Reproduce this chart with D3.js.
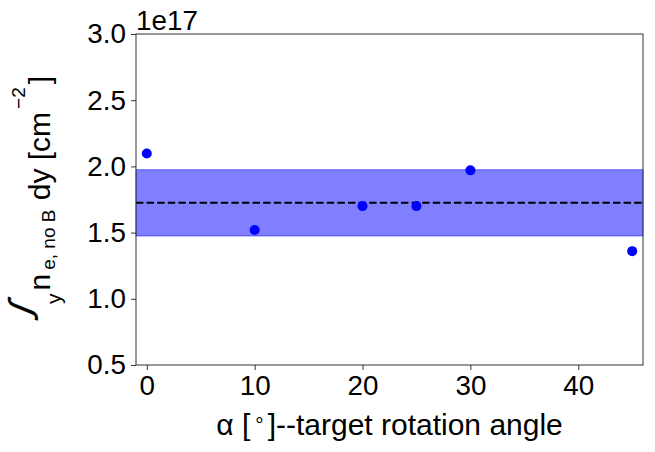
<!DOCTYPE html>
<html>
<head>
<meta charset="utf-8">
<script src="https://cdn.jsdelivr.net/npm/d3@7"></script>
<style>
  body { margin: 0; background: #fff; }
  text { font-family: "Liberation Sans", Arial, sans-serif; fill: #000; }
</style>
</head>
<body>
<div id="chart"></div>
<script>
// data (values in units of 1e17 cm^-2)
const angles = [0, 10, 20, 25, 30, 45];
const density = [2.098, 1.52, 1.70, 1.70, 1.97, 1.36];
const xTicks = [0, 10, 20, 30, 40];
const yTicks = [0.5, 1.0, 1.5, 2.0, 2.5, 3.0];

const width = 655, height = 452;
const margin = { top: 34, right: 12, bottom: 87, left: 136 };
const fs = 27.8;   // tick labels
const lfs = 30;    // axis labels
const sfs = 19;    // sub/superscripts

const svg = d3.select("#chart").append("svg")
  .attr("width", width)
  .attr("height", height);

const x = d3.scaleLinear().domain([-1, 46]).range([margin.left, width - margin.right]);
const y = d3.scaleLinear().domain([0.5, 3.0]).range([height - margin.bottom, margin.top]);

// mean and population std of the points
const mean = d3.mean(density);
const std = Math.sqrt(d3.mean(density, d => (d - mean) ** 2));

// shaded band
svg.append("rect")
  .attr("x", x.range()[0])
  .attr("y", y(mean + std))
  .attr("width", x.range()[1] - x.range()[0])
  .attr("height", y(mean - std) - y(mean + std))
  .attr("fill", "blue")
  .attr("fill-opacity", 0.5)
  .attr("stroke", "blue")
  .attr("stroke-opacity", 0.5)
  .attr("stroke-width", 1);

// dashed mean line
svg.append("line")
  .attr("x1", x.range()[0]).attr("x2", x.range()[1])
  .attr("y1", y(mean)).attr("y2", y(mean))
  .attr("stroke", "#000")
  .attr("stroke-width", 2)
  .attr("stroke-dasharray", "7.4,3.2");

// points
svg.selectAll("circle.pt")
  .data(angles)
  .join("circle")
  .attr("class", "pt")
  .attr("cx", d => x(d))
  .attr("cy", (d, i) => y(density[i]))
  .attr("r", 5)
  .attr("fill", "blue");

// axes
const xAxis = svg.append("g")
  .attr("transform", `translate(0,${y.range()[0]})`)
  .call(d3.axisBottom(x).tickValues(xTicks).tickFormat(d3.format("d")).tickSize(5).tickPadding(5));
const yAxis = svg.append("g")
  .attr("transform", `translate(${x.range()[0]},0)`)
  .call(d3.axisLeft(y).tickValues(yTicks).tickFormat(d3.format(".1f")).tickSize(5).tickPadding(5));

[xAxis, yAxis].forEach(g => {
  g.select(".domain").remove();
  g.selectAll(".tick line").attr("stroke", "#333").attr("stroke-width", 1);
  g.selectAll(".tick text")
    .attr("font-size", fs)
    .attr("font-family", "Liberation Sans, Arial, sans-serif")
    .attr("fill", "#000");
});

// frame
svg.append("rect")
  .attr("x", x.range()[0])
  .attr("y", y.range()[1])
  .attr("width", x.range()[1] - x.range()[0])
  .attr("height", y.range()[0] - y.range()[1])
  .attr("fill", "none")
  .attr("stroke", "#333")
  .attr("stroke-width", 1);

// offset text
svg.append("text")
  .attr("x", x.range()[0])
  .attr("y", 30)
  .attr("font-size", fs)
  .text("1e17");

// x label
const xl = svg.append("text")
  .attr("x", (x.range()[0] + x.range()[1]) / 2)
  .attr("y", 435)
  .attr("text-anchor", "middle")
  .attr("font-size", lfs);
xl.append("tspan").text("α [");
xl.append("tspan").attr("font-size", lfs * 0.7).attr("dx", 5).attr("dy", -3).text("°");
xl.append("tspan").attr("dx", 4).attr("dy", 3).text("]--target rotation angle");

// y label: integral sign drawn on its own, rest as one rotated line
svg.append("text")
  .attr("transform", "translate(31,312) rotate(-90) skewX(-22)")
  .attr("text-anchor", "middle")
  .attr("font-family", "DejaVu Sans")
  .attr("font-size", 31)
  .attr("stroke", "#000")
  .attr("stroke-width", 0.9)
  .text("∫");

const yl = svg.append("text")
  .attr("transform", "translate(50,304) rotate(-90)")
  .attr("text-anchor", "start")
  .attr("font-size", lfs);
yl.append("tspan").attr("font-size", 21).attr("dy", 11).text("y");
yl.append("tspan").attr("dx", 3).attr("dy", -11).text("n");
yl.append("tspan").attr("font-size", sfs).attr("dx", 4).attr("dy", 5).text("e, no B");
yl.append("tspan").attr("dx", 1).attr("dy", -5).text(" dy [cm");
yl.append("tspan").attr("font-size", sfs).attr("dx", 3).attr("dy", -25).text("−2");
yl.append("tspan").attr("dx", 3).attr("dy", 25).text("]");
</script>
</body>
</html>
